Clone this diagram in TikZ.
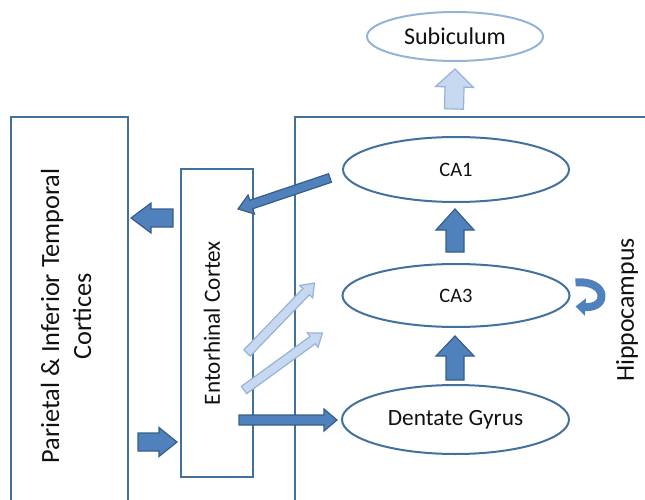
\documentclass[tikz,border=0pt]{standalone}
\usepackage{fontspec}
\setmainfont{Carlito}
\usetikzlibrary{shapes.geometric,calc,arrows.meta}
\definecolor{boxline}{HTML}{41719C}
\definecolor{darkfill}{HTML}{4F81BD}
\definecolor{darkedge}{HTML}{385D8A}
\definecolor{lightfill}{HTML}{C6D9F1}
\definecolor{lightedge}{HTML}{95B3D7}
\definecolor{txt}{HTML}{111111}
\newcommand\barrow[6]{%
  \draw[#1] let \p1=(#2),\p2=(#3),\n1={atan2(\y2-\y1,\x2-\x1)},\n2={veclen(\x2-\x1,\y2-\y1)} in
   [shift={(\p1)},rotate=\n1] (0,#4/2) -- ({\n2-#6},#4/2) -- ({\n2-#6},#5/2) -- (\n2,0)
   -- ({\n2-#6},-#5/2) -- ({\n2-#6},-#4/2) -- (0,-#4/2) -- cycle;}
\begin{document}
\begin{tikzpicture}[x=1pt,y=-1pt,
  boxst/.style={draw=boxline,line width=2pt,rectangle,inner sep=0pt},
  ell/.style={draw=boxline,line width=2pt,ellipse,inner sep=0pt,text=txt},
  lbl/.style={text=txt,inner sep=0pt},
  darkarrow/.style={fill=darkfill,draw=darkedge,line width=1.2pt,line join=miter},
  lightarrow/.style={fill=lightfill,draw=lightedge,line width=1.2pt,line join=miter}]
\useasboundingbox (0,0) rectangle (645,500);
\begin{scope}
\clip (0,0) rectangle (645,500);
\node[boxst,minimum width=117pt,minimum height=420pt] (par) at (69.5,327) {};
\node[boxst,minimum width=380pt,minimum height=420pt] (hip) at (485,327) {};
\end{scope}
\node[boxst,minimum width=72pt,minimum height=308pt] (ec) at (217,323) {};
% texts
\node[lbl,rotate=90,align=center,font=\fontsize{26.3}{32}\selectfont] (partext) at (66,316) {Parietal \& Inferior Temporal\\Cortices};
\node[lbl,rotate=90,font=\fontsize{23.2}{27}\selectfont] (ectext) at (212,323) {Entorhinal Cortex};
\node[lbl,rotate=90,font=\fontsize{25.8}{30}\selectfont] (hiptext) at (627,310) {Hippocampus};
% ellipses
\node[draw=lightedge,line width=2pt,ellipse,inner sep=0pt,text=txt,minimum width=176pt,minimum height=49pt,font=\fontsize{24}{28}\selectfont] (sub) at (455,36.5) {Subiculum};
\node[ell,minimum width=226pt,minimum height=65pt,font=\fontsize{20.5}{24}\selectfont] (ca1) at (456,169.5) {CA1};
\node[ell,minimum width=227pt,minimum height=63pt,font=\fontsize{20.5}{24}\selectfont] (ca3) at (456,295.5) {CA3};
\node[ell,minimum width=227pt,minimum height=69pt,font=\fontsize{23.3}{27}\selectfont] (dg) at (455.5,419.5) {Dentate Gyrus};
% arrow end points
\coordinate (s1) at ($(hip.north west)+(160,-7)$);
\coordinate (e1) at ($(sub.south)+(0,7)$);
\coordinate (s2) at ($(ca3.north)+(-1,-11)$);
\coordinate (e2) at ($(ca1.south)+(-1,6)$);
\coordinate (s3) at ($(dg.north)+(-0.5,-4)$);
\coordinate (e3) at ($(ca3.south)+(-1,8)$);
\coordinate (s4) at ($(ca1.west)+(-12,8.5)$);
\coordinate (e4) at ($(ec.north east)+(-16,41)$);
\coordinate (s5) at ($(ec.west)+(67,30)$);
\coordinate (e5) at ($(ca3.west)+(-27,-12.5)$);
\coordinate (s6) at ($(ec.west)+(64,67)$);
\coordinate (e6) at ($(ca3.west)+(-19,37.5)$);
\coordinate (s7) at ($(ec.west)+(59,97)$);
\coordinate (e7) at ($(dg.west)+(-4,0.5)$);
\coordinate (s8) at ($(ec.west)+(-7,-105)$);
\coordinate (e8) at ($(par.east)+(2,-109)$);
\coordinate (s9) at ($(par.east)+(9,115)$);
\coordinate (e9) at ($(ec.west)+(-3,119)$);
% block arrows
\barrow{lightarrow}{s1}{e1}{19}{38}{18}
\barrow{darkarrow}{s2}{e2}{18}{38}{21}
\barrow{darkarrow}{s3}{e3}{18}{38}{20}
\barrow{darkarrow}{s4}{e4}{9}{20}{14}
\barrow{lightarrow}{s5}{e5}{9}{18}{12}
\barrow{lightarrow}{s6}{e6}{9}{18}{12}
\barrow{darkarrow}{s7}{e7}{10}{22}{13}
\barrow{darkarrow}{s8}{e8}{18}{30}{20}
\barrow{darkarrow}{s9}{e9}{18}{29}{18}
% self loop on CA3
\coordinate (l1) at ($(ca3.east)+(5,-13)$);
\coordinate (l2) at ($(ca3.east)+(5,11)$);
\draw[darkfill,line width=8pt,-{Triangle[length=10pt,width=17pt]}] (l1) .. controls +(32,-3) and +(34,2) .. (l2);
\end{tikzpicture}
\end{document}
